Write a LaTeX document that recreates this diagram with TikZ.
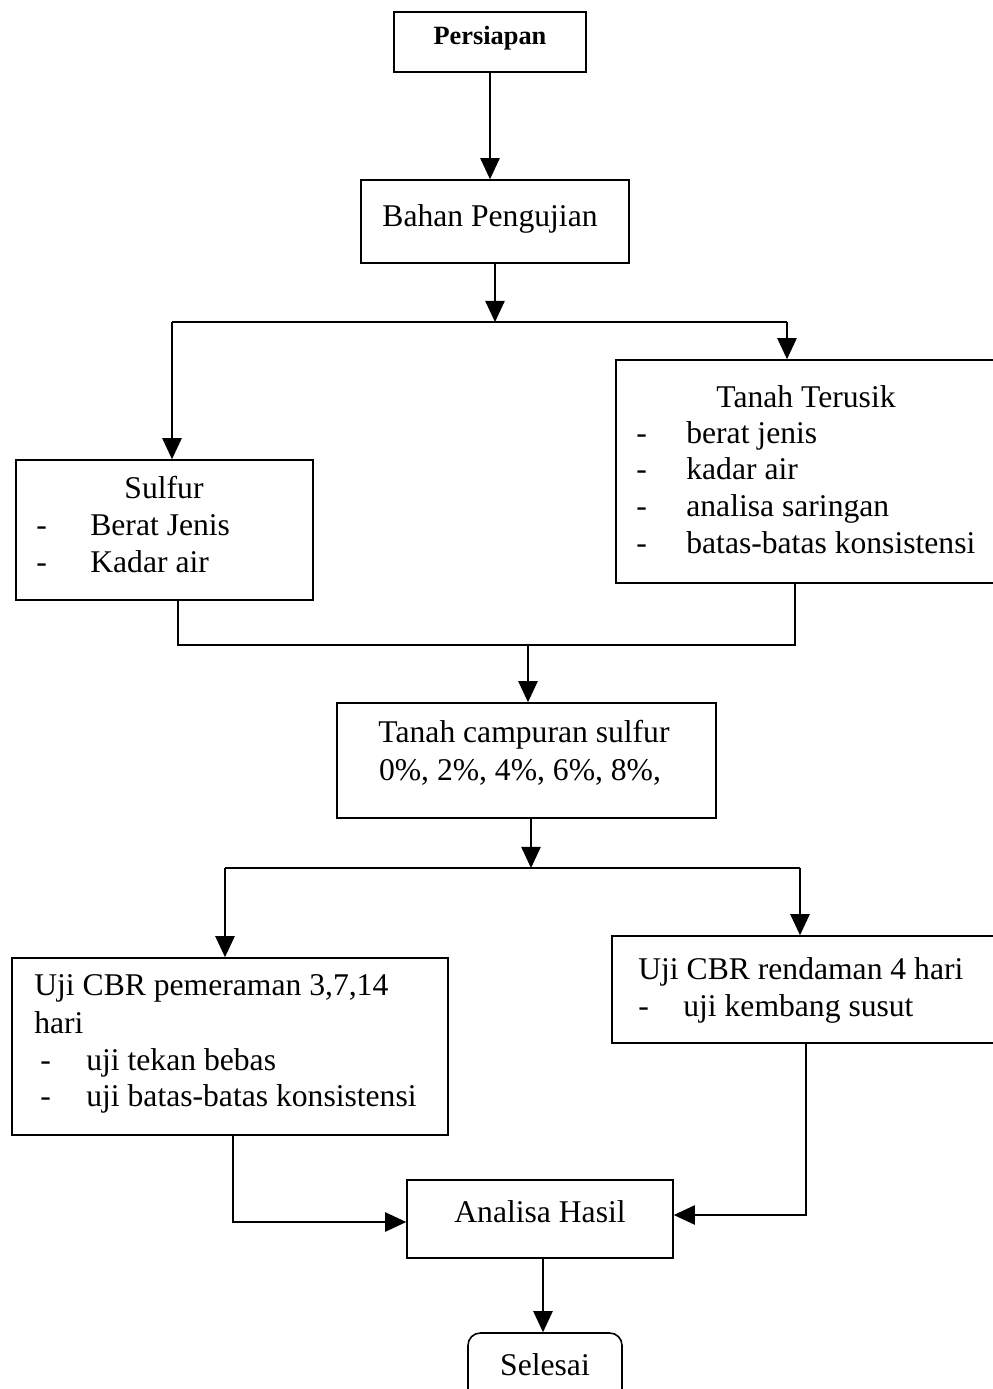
\documentclass[tikz,border=0pt]{standalone}
\usepackage{fontspec}
\setmainfont{Liberation Serif}
\usetikzlibrary{arrows.meta,fit}
\begin{document}
\begin{tikzpicture}[x=0.02cm,y=-0.02cm,
  box/.style={draw, line width=0.9pt, inner sep=0pt},
  txt/.style={inner sep=0pt, font=\fontsize{18}{21}\selectfont},
  ln/.style={line width=0.9pt},
  arr/.style={line width=0.9pt, -{Triangle[length=12pt,width=11pt]}}]
\useasboundingbox (0,0) rectangle (992,1389);
% boxes
\node[box, fit={(394,12) (586,72)}] (persiapan) {};
\node[box, fit={(361,180) (629,263)}] (bahan) {};
\node[box, fit={(16,460) (313,600)}] (sulfur) {};
\node[box, fit={(616,360) (1000,583)}] (terusik) {};
\node[box, fit={(337,703) (716,818)}] (campuran) {};
\node[box, fit={(12,958) (448,1135)}] (cbrl) {};
\node[box, fit={(612,936) (1000,1043)}] (cbrr) {};
\node[box, fit={(407,1180) (673,1258)}] (analisa) {};
\node[box, rounded corners=7pt, fit={(468,1333) (622,1405)}] (selesai) {};
% texts
\node[txt, anchor=base, font=\fontsize{15}{18}\selectfont\bfseries] (tpersiapan) at (490,45) {Persiapan};
\node[txt, anchor=base] (tbahan) at (490,226) {Bahan Pengujian};
\node[txt, anchor=base] (tsulfur) at (164,498) {Sulfur};
\node[txt, anchor=base west] (ds1) at (36,535) {-};
\node[txt, anchor=base west] (ts1) at (90,535) {Berat Jenis};
\node[txt, anchor=base west] (ds2) at (36,572) {-};
\node[txt, anchor=base west] (ts2) at (90,572) {Kadar air};
\node[txt, anchor=base] (tterusik) at (806,407) {Tanah Terusik};
\node[txt, anchor=base west] (dt1) at (636,443) {-};
\node[txt, anchor=base west] (tt1) at (686,443) {berat jenis};
\node[txt, anchor=base west] (dt2) at (636,479) {-};
\node[txt, anchor=base west] (tt2) at (686,479) {kadar air};
\node[txt, anchor=base west] (dt3) at (636,516) {-};
\node[txt, anchor=base west] (tt3) at (686,516) {analisa saringan};
\node[txt, anchor=base west] (dt4) at (636,553) {-};
\node[txt, anchor=base west] (tt4) at (686,553) {batas-batas konsistensi};
\node[txt, anchor=base] (tcamp1) at (524,742) {Tanah campuran sulfur};
\node[txt, anchor=base] (tcamp2) at (520,780) {0\%, 2\%, 4\%, 6\%, 8\%,};
\node[txt, anchor=base west] (tcl1) at (34,995) {Uji CBR pemeraman 3,7,14};
\node[txt, anchor=base west] (tcl2) at (34,1033) {hari};
\node[txt, anchor=base west] (dcl1) at (40,1070) {-};
\node[txt, anchor=base west] (tcl3) at (86,1070) {uji tekan bebas};
\node[txt, anchor=base west] (dcl2) at (40,1106) {-};
\node[txt, anchor=base west] (tcl4) at (86,1106) {uji batas-batas konsistensi};
\node[txt, anchor=base west] (tcr1) at (638,979) {Uji CBR rendaman 4 hari};
\node[txt, anchor=base west] (dcr1) at (638,1016) {-};
\node[txt, anchor=base west] (tcr2) at (683,1016) {uji kembang susut};
\node[txt, anchor=base] (tanalisa) at (540,1222) {Analisa Hasil};
\node[txt, anchor=base] (tselesai) at (545,1375) {Selesai};
% junction coordinates
\coordinate (j1) at (495,322);
\coordinate (j1l) at (172,322);
\coordinate (j1r) at (787,322);
\coordinate (j2) at (528,645);
\coordinate (j2l) at (178,645);
\coordinate (j2r) at (795,645);
\coordinate (j3) at (531,868);
\coordinate (j3l) at (225,868);
\coordinate (j3r) at (800,868);
\coordinate (cl) at (233,1222);
\coordinate (cr) at (806,1215);
\coordinate (ja) at (543,1258);
% connectors
\draw[arr] (persiapan.south) -- (persiapan.south |- bahan.north);
\draw[arr] (j1 |- bahan.south) -- (j1);
\draw[ln] (j1l) -- (j1r);
\draw[arr] (j1l) -- (j1l |- sulfur.north);
\draw[arr] (j1r) -- (j1r |- terusik.north);
\draw[ln] (j2l |- sulfur.south) -- (j2l) -- (j2r) -- (j2r |- terusik.south);
\draw[arr] (j2) -- (j2 |- campuran.north);
\draw[arr] (j3 |- campuran.south) -- (j3);
\draw[ln] (j3l) -- (j3r);
\draw[arr] (j3l) -- (j3l |- cbrl.north);
\draw[arr] (j3r) -- (j3r |- cbrr.north);
\draw[arr] (cl |- cbrl.south) -- (cl) -- (cl -| analisa.west);
\draw[arr] (cr |- cbrr.south) -- (cr) -- (cr -| analisa.east);
\draw[arr] (ja) -- (ja |- selesai.north);
\end{tikzpicture}
\end{document}
